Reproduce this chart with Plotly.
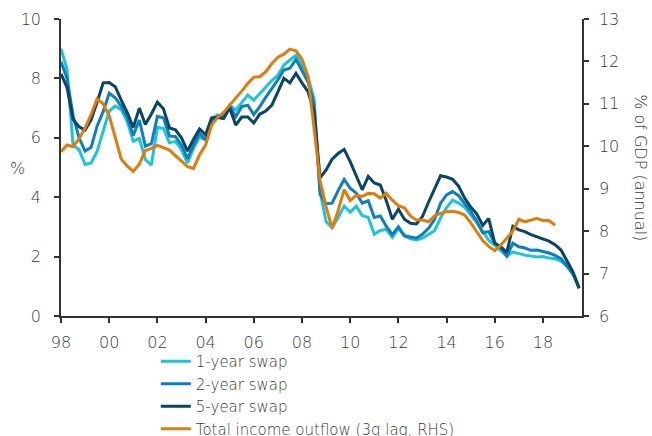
import plotly.graph_objects as go

# Quarterly dates (decimal years) 1998Q1 .. 2019Q3
dates = [1998 + 0.25 * k for k in range(87)]

swap_1y = [9.0, 8.3, 5.75, 5.6, 5.1, 5.15, 5.55, 6.2, 6.9, 7.07,
           6.95, 6.55, 5.88, 5.98, 5.27, 5.08, 6.35, 6.32, 5.83, 5.88,
           5.6, 5.15, 5.65, 6.03, 5.93, 6.65, 6.77, 6.7, 7.1, 6.93,
           7.2, 7.44, 7.27, 7.5, 7.7, 7.93, 8.1, 8.45, 8.62, 8.78,
           8.45, 8.05, 7.3, 4.2, 3.18, 2.97, 3.32, 3.7, 3.5, 3.7,
           3.38, 3.32, 2.75, 2.88, 2.92, 2.65, 2.95, 2.7, 2.6, 2.56,
           2.62, 2.74, 2.87, 3.3, 3.65, 3.9, 3.8, 3.66, 3.42, 3.15,
           2.85, 2.55, 2.38, 2.2, 2.02, 2.15, 2.09, 2.05, 2.02, 1.99,
           2.0, 1.95, 1.93, 1.85, 1.68, 1.4, 0.97]

swap_2y = [8.56, 8.0, 6.75, 6.0, 5.55, 5.68, 6.4, 6.88, 7.5, 7.35,
           7.06, 6.7, 6.08, 6.6, 5.72, 5.8, 6.72, 6.67, 6.06, 6.04,
           5.75, 5.3, 5.75, 6.15, 5.93, 6.6, 6.72, 6.7, 7.07, 6.71,
           7.05, 7.1, 6.78, 7.05, 7.37, 7.65, 7.95, 8.28, 8.34, 8.64,
           8.25, 7.88, 7.15, 4.1, 3.78, 3.8, 4.22, 4.6, 4.3, 4.14,
           3.8, 3.88, 3.32, 3.37, 3.02, 2.74, 3.0, 2.7, 2.66, 2.62,
           2.75, 2.95, 3.25, 3.8, 4.08, 4.19, 4.05, 3.78, 3.52, 3.2,
           2.8, 2.84, 2.45, 2.3, 2.02, 2.45, 2.33, 2.29, 2.21, 2.22,
           2.18, 2.12, 2.04, 1.93, 1.68, 1.4, 0.95]

swap_5y = [8.15, 7.7, 6.62, 6.37, 6.26, 6.6, 7.2, 7.85, 7.86, 7.72,
           7.27, 6.85, 6.35, 7.0, 6.45, 6.8, 7.2, 6.98, 6.33, 6.27,
           6.0, 5.55, 5.95, 6.3, 6.1, 6.67, 6.68, 6.65, 7.0, 6.43,
           6.7, 6.7, 6.5, 6.8, 6.9, 7.1, 7.55, 8.0, 7.85, 8.17,
           7.85, 7.55, 6.9, 4.65, 4.92, 5.28, 5.47, 5.61, 5.2, 4.72,
           4.25, 4.7, 4.48, 4.41, 3.88, 3.26, 3.6, 3.26, 3.12, 3.1,
           3.35, 3.83, 4.26, 4.72, 4.68, 4.6, 4.37, 3.97, 3.67, 3.44,
           3.05, 3.28, 2.45, 2.33, 2.14, 3.02, 2.9, 2.84, 2.74, 2.67,
           2.6, 2.52, 2.4, 2.22, 1.85, 1.48, 0.93]

# Total income outflow, % of GDP (3q lag), 1998Q1 .. 2018Q3
income_outflow = [9.87, 10.03, 9.99, 10.18, 10.43, 10.75, 11.12, 11.0, 10.72, 10.2,
                  9.7, 9.53, 9.41, 9.58, 9.9, 9.95, 10.02, 9.97, 9.91, 9.78,
                  9.65, 9.52, 9.48, 9.8, 10.03, 10.5, 10.68, 10.8, 10.97, 11.13,
                  11.3, 11.48, 11.63, 11.64, 11.76, 11.95, 12.1, 12.17, 12.29, 12.25,
                  12.05, 11.65, 10.4, 9.2, 8.58, 8.07, 8.48, 8.98, 8.72, 8.85,
                  8.82, 8.89, 8.88, 8.78, 8.89, 8.73, 8.6, 8.55, 8.36, 8.26,
                  8.26, 8.22, 8.36, 8.42, 8.46, 8.47, 8.44, 8.38, 8.2, 8.0,
                  7.78, 7.64, 7.54, 7.67, 7.84, 8.0, 8.28, 8.22, 8.26, 8.3,
                  8.25, 8.25, 8.14]

x_tickvals = [1998, 2000, 2002, 2004, 2006, 2008, 2010, 2012, 2014, 2016, 2018]
x_ticktext = ["98", "00", "02", "04", "06", "08", "10", "12", "14", "16", "18"]
left_ticks = [0, 2, 4, 6, 8, 10]
right_ticks = [6, 7, 8, 9, 10, 11, 12, 13]

names = ["1-year swap", "2-year swap", "5-year swap", "Total income outflow (3q lag, RHS)"]
colors = ["#1cc4d9", "#0e7fbd", "#0a4467", "#e07c0c"]

FAMILY = "'DejaVu Sans', sans-serif"
TXT = "#3a3a3a"
FONT = dict(family=FAMILY, size=16, color=TXT, weight=200)
LEGFONT = dict(family=FAMILY, size=15, color=TXT, weight=200)
AXCOL = "#333333"

fig = go.Figure()
for series, name, col in zip([swap_1y, swap_2y, swap_5y], names[:3], colors[:3]):
    fig.add_trace(go.Scatter(x=dates[:len(series)], y=series, mode="lines", name=name,
                             line=dict(color=col, width=3), yaxis="y"))
fig.add_trace(go.Scatter(x=dates[:len(income_outflow)], y=income_outflow, mode="lines",
                         name=names[3], line=dict(color=colors[3], width=3), yaxis="y2"))

axis_common = dict(showgrid=False, zeroline=False, showline=True, linecolor=AXCOL,
                   linewidth=1.5, ticks="outside", ticklen=5, tickcolor=AXCOL,
                   tickwidth=1.5, tickfont=FONT)

fig.update_layout(
    width=652, height=436,
    margin=dict(l=61, r=70, t=19, b=120, autoexpand=False),
    paper_bgcolor="white", plot_bgcolor="white",
    font=FONT,
    showlegend=True,
    legend=dict(x=0.182, y=-0.098, xanchor="left", yanchor="top", orientation="v",
                font=LEGFONT, bgcolor="rgba(0,0,0,0)", tracegroupgap=0, itemwidth=30),
    xaxis=dict(range=[1998, 2019.62], tickvals=x_tickvals, ticktext=x_ticktext,
               ticklabelstandoff=6, **axis_common),
    yaxis=dict(range=[0, 10], tickvals=left_ticks, ticklabelstandoff=10, **axis_common),
    yaxis2=dict(range=[6, 13], tickvals=right_ticks, overlaying="y", side="right",
                ticklabelstandoff=7, **axis_common),
    annotations=[
        dict(text="%", x=-0.083, y=0.495, xref="paper", yref="paper", showarrow=False,
             xanchor="center", yanchor="middle", font=FONT),
        dict(text="% of GDP (annual)", xref="paper", yref="paper", x=1.112, y=0.5,
             xanchor="center", yanchor="middle", textangle=90, showarrow=False, font=FONT),
    ],
)

fig.write_html("out.html")
